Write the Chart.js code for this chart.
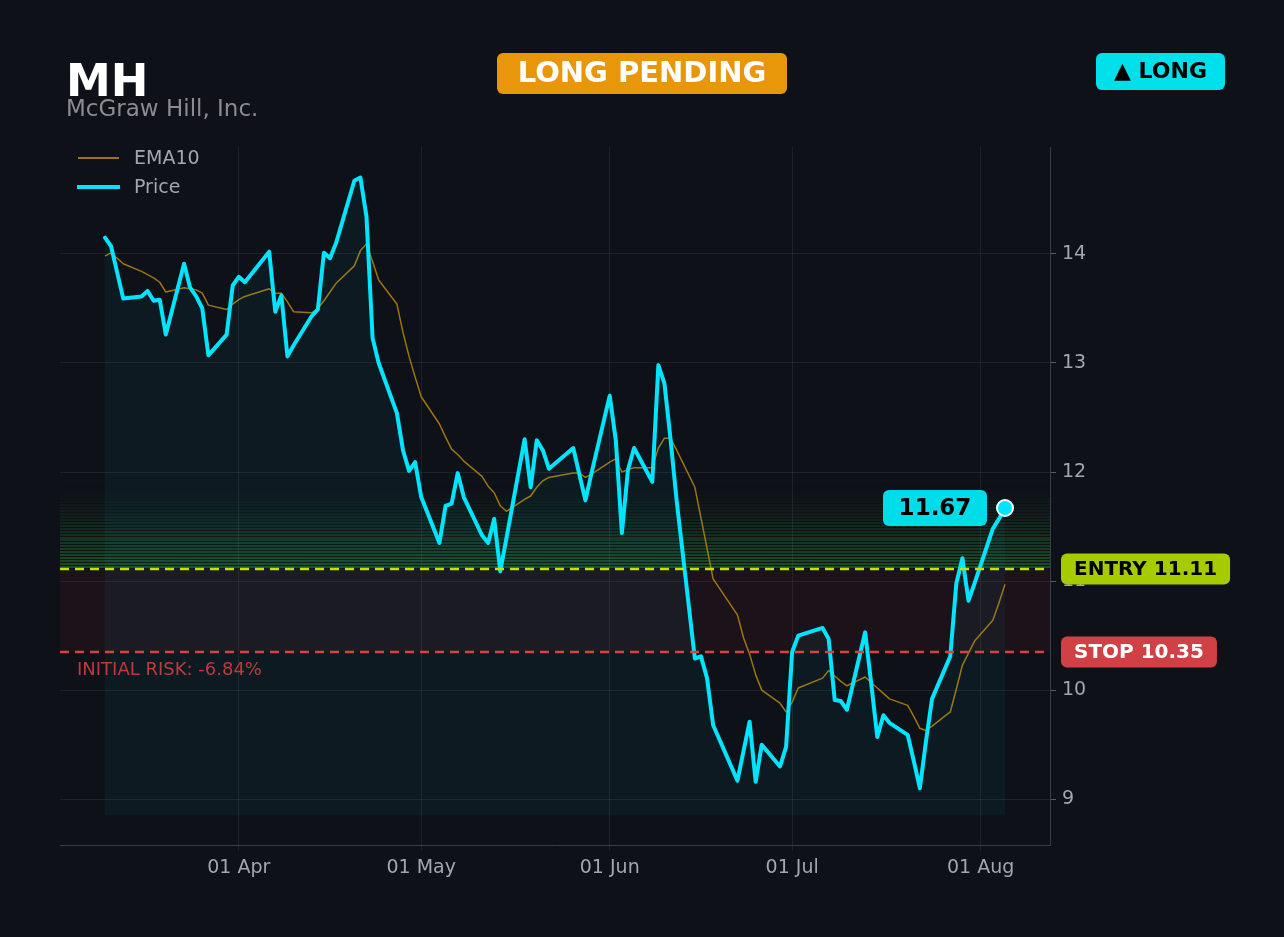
<!DOCTYPE html>
<html>
<head>
<meta charset="utf-8">
<script src="https://cdn.jsdelivr.net/npm/chart.js@4.4.1/dist/chart.umd.min.js"></script>
<style>
  html, body { margin: 0; padding: 0; background: #0e1118; }
  #wrap { width: 1284px; height: 937px; position: relative; }
</style>
</head>
<body>
<div id="wrap"><canvas id="chart"></canvas></div>
<script>
// trading days, 2026
const tradingDates = [
  '2026-03-10','2026-03-11','2026-03-12','2026-03-13','2026-03-16','2026-03-17','2026-03-18','2026-03-19','2026-03-20',
  '2026-03-23','2026-03-24','2026-03-25','2026-03-26','2026-03-27','2026-03-30','2026-03-31',
  '2026-04-01','2026-04-02','2026-04-06','2026-04-07','2026-04-08','2026-04-09','2026-04-10','2026-04-13','2026-04-14',
  '2026-04-15','2026-04-16','2026-04-17','2026-04-20','2026-04-21','2026-04-22','2026-04-23','2026-04-24','2026-04-27',
  '2026-04-28','2026-04-29','2026-04-30',
  '2026-05-01','2026-05-04','2026-05-05','2026-05-06','2026-05-07','2026-05-08','2026-05-11','2026-05-12','2026-05-13',
  '2026-05-14','2026-05-15','2026-05-18','2026-05-19','2026-05-20','2026-05-21','2026-05-22','2026-05-26','2026-05-27',
  '2026-05-28','2026-05-29',
  '2026-06-01','2026-06-02','2026-06-03','2026-06-04','2026-06-05','2026-06-08','2026-06-09','2026-06-10','2026-06-11',
  '2026-06-12','2026-06-15','2026-06-16','2026-06-17','2026-06-18','2026-06-22','2026-06-23','2026-06-24','2026-06-25',
  '2026-06-26','2026-06-29','2026-06-30',
  '2026-07-01','2026-07-02','2026-07-06','2026-07-07','2026-07-08','2026-07-09','2026-07-10','2026-07-13','2026-07-14',
  '2026-07-15','2026-07-16','2026-07-17','2026-07-20','2026-07-21','2026-07-22','2026-07-23','2026-07-24','2026-07-27',
  '2026-07-28','2026-07-29','2026-07-30','2026-07-31',
  '2026-08-03','2026-08-04','2026-08-05'
];

const priceValues = [
  14.15,14.07,13.83,13.59,13.61,13.66,13.57,13.58,13.26,
  13.91,13.69,13.61,13.50,13.07,13.26,13.71,
  13.79,13.74,14.02,13.47,13.62,13.06,13.16,13.43,13.49,
  14.01,13.96,14.10,14.67,14.70,14.34,13.23,13.00,12.54,
  12.20,12.01,12.09,
  11.77,11.35,11.69,11.71,11.99,11.77,11.42,11.35,11.57,
  11.09,11.39,12.30,11.86,12.29,12.20,12.03,12.22,11.98,
  11.74,11.99,
  12.70,12.29,11.44,12.02,12.22,11.91,12.98,12.81,12.30,
  11.74,10.29,10.31,10.11,9.68,9.17,9.44,9.71,9.16,
  9.50,9.30,9.48,
  10.35,10.50,10.57,10.47,9.91,9.90,9.82,10.53,10.06,
  9.57,9.77,9.70,9.59,9.35,9.10,9.53,9.92,10.31,
  10.98,11.21,10.82,10.98,
  11.48,11.57,11.67
];

const ema10Values = [
  13.98,14.01,13.96,13.91,13.84,13.81,13.78,13.74,13.65,
  13.69,13.68,13.67,13.64,13.53,13.49,13.54,
  13.58,13.61,13.68,13.64,13.64,13.56,13.47,13.46,13.50,
  13.57,13.65,13.73,13.89,14.03,14.09,13.93,13.76,13.54,
  13.28,13.06,12.87,
  12.69,12.44,12.32,12.21,12.16,12.10,11.96,11.87,11.81,
  11.69,11.64,11.75,11.78,11.86,11.92,11.95,11.99,11.99,
  11.95,11.98,
  12.09,12.12,12.00,12.02,12.04,12.04,12.22,12.31,12.31,
  12.20,11.86,11.58,11.30,11.02,10.69,10.48,10.33,10.14,
  10.00,9.88,9.80,
  9.89,10.02,10.11,10.18,10.13,10.08,10.04,10.12,10.07,
  10.02,9.97,9.92,9.86,9.76,9.65,9.63,9.67,9.80,
  10.01,10.23,10.34,10.45,
  10.64,10.80,10.97
];

const yTickValues = [9, 10, 11, 12, 13, 14];
const monthTicks = ['2026-04-01','2026-05-01','2026-06-01','2026-07-01','2026-08-01'];
const monthNames = ['Jan','Feb','Mar','Apr','May','Jun','Jul','Aug','Sep','Oct','Nov','Dec'];

const entryPrice = 11.11;
const stopPrice = 10.35;
const targetPrice = 11.87;
const riskPct = -6.84;
const fillBase = 8.85;
const yMin = 8.58, yMax = 14.98;

const FONT = "'DejaVu Sans', sans-serif";
const CYAN = '#00e5ff';
const EMA_COLOR = 'rgba(184,134,11,0.85)';
const GRID = 'rgba(255,255,255,0.07)';
const TICK_COLOR = '#a3a6ad';

const toDay = s => {
  const [y, m, d] = s.split('-').map(Number);
  return Date.UTC(y, m - 1, d) / 86400000;
};
const fmtDay = v => {
  const d = new Date(v * 86400000);
  return String(d.getUTCDate()).padStart(2, '0') + ' ' + monthNames[d.getUTCMonth()];
};

const xs = tradingDates.map(toDay);
const span = xs[xs.length - 1] - xs[0];
const xMin = xs[0] - span * 0.05;
const xMax = xs[xs.length - 1] + span * 0.05;
const lastIdx = xs.length - 1;

function roundRect(ctx, x, y, w, h, r) {
  ctx.beginPath();
  ctx.moveTo(x + r, y);
  ctx.arcTo(x + w, y, x + w, y + h, r);
  ctx.arcTo(x + w, y + h, x, y + h, r);
  ctx.arcTo(x, y + h, x, y, r);
  ctx.arcTo(x, y, x + w, y, r);
  ctx.closePath();
}

function badge(ctx, text, cx, cy, w, h, bg, fg, font) {
  ctx.save();
  ctx.fillStyle = bg;
  roundRect(ctx, cx - w / 2, cy - h / 2, w, h, 6);
  ctx.fill();
  ctx.fillStyle = fg;
  ctx.font = font;
  ctx.textAlign = 'center';
  ctx.textBaseline = 'middle';
  ctx.fillText(text, cx, cy + 1);
  ctx.restore();
}

const zones = {
  id: 'zones',
  beforeDatasetsDraw(chart) {
    const { ctx, chartArea: a, scales: { y } } = chart;
    ctx.save();
    ctx.beginPath();
    ctx.rect(a.left, a.top, a.right - a.left, a.bottom - a.top);
    ctx.clip();
    // green band entry -> target, striped fade
    const yTop = y.getPixelForValue(targetPrice);
    const yBot = y.getPixelForValue(entryPrice);
    const n = 28;
    const h = (yBot - yTop) / n;
    for (let i = 0; i < n; i++) {
      const t = (i + 1) / n;
      ctx.fillStyle = 'rgba(45,170,60,' + (0.4 * Math.pow(t, 1.4)).toFixed(3) + ')';
      ctx.fillRect(a.left, Math.round(yTop + i * h), a.right - a.left, Math.max(1, Math.round(h) - 1));
    }
    // red risk band entry -> stop
    const yStop = y.getPixelForValue(stopPrice);
    ctx.fillStyle = 'rgba(200,40,50,0.08)';
    ctx.fillRect(a.left, yBot, a.right - a.left, yStop - yBot);
    ctx.restore();
  },
  afterDatasetsDraw(chart) {
    const { ctx, chartArea: a, scales: { x, y } } = chart;
    const yEntry = y.getPixelForValue(entryPrice);
    const yStop = y.getPixelForValue(stopPrice);
    ctx.save();
    ctx.lineWidth = 2.5;
    ctx.setLineDash([9, 6]);
    ctx.strokeStyle = '#c6e000';
    ctx.beginPath(); ctx.moveTo(a.left, yEntry); ctx.lineTo(a.right, yEntry); ctx.stroke();
    ctx.strokeStyle = '#d9413f';
    ctx.beginPath(); ctx.moveTo(a.left, yStop); ctx.lineTo(a.right, yStop); ctx.stroke();
    ctx.setLineDash([]);

    ctx.fillStyle = '#c0393b';
    ctx.font = '18px ' + FONT;
    ctx.textAlign = 'left';
    ctx.textBaseline = 'middle';
    ctx.fillText('INITIAL RISK: ' + riskPct.toFixed(2) + '%', a.left + 17, yStop + 18);

    // right side labels
    const lx = a.right + 11;
    ctx.font = 'bold 20px ' + FONT;
    let w = ctx.measureText('ENTRY ' + entryPrice.toFixed(2)).width + 26;
    badge(ctx, 'ENTRY ' + entryPrice.toFixed(2), lx + w / 2, yEntry, w, 31, '#a6cc00', '#000', 'bold 20px ' + FONT);
    w = ctx.measureText('STOP ' + stopPrice.toFixed(2)).width + 26;
    badge(ctx, 'STOP ' + stopPrice.toFixed(2), lx + w / 2, yStop, w, 31, '#d04045', '#fff', 'bold 20px ' + FONT);

    // last price label
    const px = x.getPixelForValue(xs[lastIdx]);
    const py = y.getPixelForValue(priceValues[lastIdx]);
    badge(ctx, priceValues[lastIdx].toFixed(2), px - 18 - 52, py, 104, 36, '#00dde8', '#000', 'bold 23px ' + FONT);
    ctx.restore();
  },
  afterDraw(chart) {
    const { ctx } = chart;
    ctx.save();
    // header
    ctx.textAlign = 'left';
    ctx.textBaseline = 'alphabetic';
    ctx.fillStyle = '#ffffff';
    ctx.font = 'bold 45px ' + FONT;
    ctx.fillText('MH', 66, 96);
    ctx.fillStyle = '#8a8c90';
    ctx.font = '23px ' + FONT;
    ctx.fillText('McGraw Hill, Inc.', 66, 116);

    badge(ctx, 'LONG PENDING', 642, 73.5, 290, 41, '#e8970a', '#ffffff', 'bold 29px ' + FONT);
    badge(ctx, '\u25B2 LONG', 1160.5, 71.5, 129, 37, '#00e0ea', '#000000', 'bold 22px ' + FONT);

    // legend
    ctx.lineCap = 'butt';
    ctx.strokeStyle = EMA_COLOR;
    ctx.lineWidth = 2;
    ctx.beginPath(); ctx.moveTo(78, 158); ctx.lineTo(119, 158); ctx.stroke();
    ctx.strokeStyle = CYAN;
    ctx.lineWidth = 4;
    ctx.beginPath(); ctx.moveTo(77, 187); ctx.lineTo(120, 187); ctx.stroke();
    ctx.fillStyle = TICK_COLOR;
    ctx.font = '19px ' + FONT;
    ctx.textAlign = 'left';
    ctx.textBaseline = 'middle';
    ctx.fillText('EMA10', 134, 159);
    ctx.fillText('Price', 134, 188);
    ctx.restore();
  }
};

new Chart(document.getElementById('chart'), {
  type: 'line',
  data: {
    datasets: [
      {
        label: 'Price',
        data: xs.map((d, i) => ({ x: d, y: priceValues[i] })),
        borderColor: CYAN,
        borderWidth: 4,
        borderJoinStyle: 'round',
        borderCapStyle: 'round',
        backgroundColor: 'rgba(0,229,255,0.045)',
        fill: { value: fillBase },
        tension: 0,
        pointRadius: ctx => ctx.dataIndex === lastIdx ? 8 : 0,
        pointBackgroundColor: CYAN,
        pointBorderColor: '#ffffff',
        pointBorderWidth: 2,
        pointHoverRadius: 0
      },
      {
        label: 'EMA10',
        data: xs.map((d, i) => ({ x: d, y: ema10Values[i] })),
        borderColor: EMA_COLOR,
        borderWidth: 1.5,
        borderJoinStyle: 'round',
        fill: false,
        tension: 0,
        pointRadius: 0
      }
    ]
  },
  options: {
    responsive: true,
    maintainAspectRatio: false,
    animation: false,
    layout: { padding: { left: 60, top: 147, right: 164, bottom: 52 } },
    plugins: { legend: { display: false }, tooltip: { enabled: false } },
    scales: {
      x: {
        type: 'linear',
        min: xMin,
        max: xMax,
        afterFit: s => { s.height = 40; },
        afterBuildTicks: s => { s.ticks = monthTicks.map(m => ({ value: toDay(m) })); },
        grid: { color: GRID, tickLength: 6, tickColor: GRID },
        border: { color: '#3a3d44', width: 1 },
        ticks: {
          color: TICK_COLOR,
          font: { family: FONT, size: 19 },
          padding: 6,
          maxRotation: 0,
          callback: v => fmtDay(v)
        }
      },
      y: {
        position: 'right',
        min: yMin,
        max: yMax,
        afterFit: s => { s.width = 70; },
        afterBuildTicks: s => { s.ticks = yTickValues.map(v => ({ value: v })); },
        grid: { color: GRID, tickLength: 6, tickColor: '#555a62' },
        border: { color: '#3a3d44', width: 1 },
        ticks: {
          color: TICK_COLOR,
          font: { family: FONT, size: 19 },
          padding: 6,
          callback: v => String(v)
        }
      }
    }
  },
  plugins: [zones]
});
</script>
</body>
</html>
